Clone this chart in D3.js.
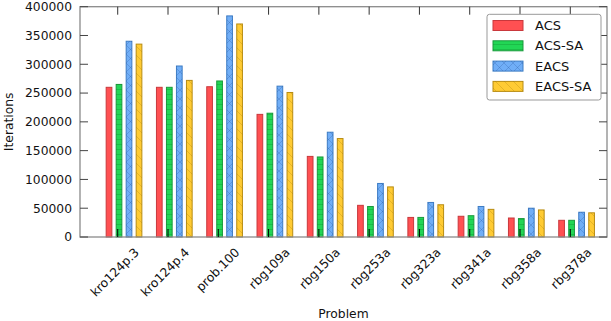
<!DOCTYPE html>
<html><head><meta charset="utf-8">
<script src="https://cdn.jsdelivr.net/npm/d3@7"></script>
<style>body{margin:0;background:#fff}svg{display:block;font-family:"DejaVu Sans",sans-serif}</style>
</head><body><svg id="c" width="611" height="321"></svg>
<script>
const categories = ["kro124p.3","kro124p.4","prob.100","rbg109a","rbg150a","rbg253a","rbg323a","rbg341a","rbg358a","rbg378a"];
const seriesNames = ["ACS","ACS-SA","EACS","EACS-SA"];
const acs    = [260000,260000,261000,213000,140000,55000,34000,36000,33000,29000];
const acsSa  = [265000,260000,271000,215000,139000,53000,34000,37000,32000,29000];
const eacs   = [340000,297000,384000,262000,182000,93000,60000,53000,50000,43000];
const eacsSa = [335000,272000,370000,251000,171000,87000,56000,48000,47000,42000];
const yTicks = [0,50000,100000,150000,200000,250000,300000,350000,400000];

const series = [acs, acsSa, eacs, eacsSa];
const fills   = ["#ff5052","#22d655","#70aef7","#ffcb33"];
const strokes = ["#c9383c","#1a9a3c","#3d7cc4","#b88c12"];
const patterns = [null,"hl","xh","nw"];

const svg = d3.select("#c");
const L = 80, R = 607, T = 6.7, B = 237;
const x = d3.scaleLinear().domain([-0.75, 9.73]).range([L, R]);
const y = d3.scaleLinear().domain([0, 400000]).range([B, T]);

const defs = svg.append("defs");
function pat(id, color, draw, size) {
  const p = defs.append("pattern").attr("id", id).attr("patternUnits","userSpaceOnUse")
    .attr("width", size).attr("height", size);
  draw(p, color, size);
}
pat("hl", "rgba(0,90,20,0.35)", (p,c,s)=>{ p.append("line").attr("x1",0).attr("x2",s).attr("y1",s-0.5).attr("y2",s-0.5).attr("stroke",c).attr("stroke-width",0.6); }, 5);
pat("xh", "rgba(20,60,130,0.35)", (p,c,s)=>{
  p.append("path").attr("d",`M0,0L${s},${s}M${s},0L0,${s}`).attr("stroke",c).attr("stroke-width",0.6).attr("fill","none"); }, 9);
pat("nw", "rgba(130,90,0,0.35)", (p,c,s)=>{
  p.append("path").attr("d",`M0,0L${s},${s}M${-s},0L${s*0},${s}M${s},0L${2*s},${s}`).attr("stroke",c).attr("stroke-width",0.6).attr("fill","none"); }, 9);

// bars
const bw = 6.7;
series.forEach((vals, k) => {
  const g = svg.append("g");
  vals.forEach((v, i) => {
    const cx = x(i) + (k - 1) * 10 + 1.3;
    g.append("rect").attr("x", cx - bw/2 + 0.5).attr("y", y(v)).attr("width", bw - 1).attr("height", B - y(v))
      .attr("fill", fills[k]).attr("stroke", strokes[k]).attr("stroke-width", 1);
    if (patterns[k]) g.append("rect").attr("x", cx - bw/2 + 0.5).attr("y", y(v)).attr("width", bw - 1).attr("height", B - y(v))
      .attr("fill", `url(#${patterns[k]})`);
  });
});

// frame
svg.append("rect").attr("x", L).attr("y", T).attr("width", R - L).attr("height", B - T)
  .attr("fill", "none").attr("stroke", "#8a8a8a").attr("stroke-width", 1.3);

// y ticks
const ya = svg.append("g");
yTicks.forEach(t => {
  ya.append("line").attr("x1", L).attr("x2", L + 8).attr("y1", y(t)).attr("y2", y(t)).attr("stroke", "#444").attr("stroke-width", 1);
  ya.append("line").attr("x1", R - 8).attr("x2", R).attr("y1", y(t)).attr("y2", y(t)).attr("stroke", "#444").attr("stroke-width", 1);
  ya.append("text").attr("x", 72).attr("y", y(t)).attr("dy", "0.36em").attr("text-anchor", "end")
    .attr("font-size", 12.3).attr("fill", "#111").text(t);
});

// x ticks
categories.forEach((c, i) => {
  svg.append("line").attr("x1", x(i)).attr("x2", x(i)).attr("y1", T).attr("y2", T + 8).attr("stroke", "#333").attr("stroke-width", 1);
  svg.append("line").attr("x1", x(i)).attr("x2", x(i)).attr("y1", B).attr("y2", B - 8).attr("stroke", "#000").attr("stroke-width", 1);
  svg.append("text").attr("transform", `translate(${x(i) + 16},${247}) rotate(-45)`)
    .attr("text-anchor", "end").attr("dy", "0.7em").attr("font-size", 12.3).attr("fill", "#111").text(c);
});

// axis labels
svg.append("text").attr("x", (L + R) / 2).attr("y", 318).attr("text-anchor", "middle").attr("font-size", 12.3).attr("fill", "#111").text("Problem");
svg.append("text").attr("transform", `translate(13,${(T + B) / 2}) rotate(-90)`).attr("text-anchor", "middle").attr("font-size", 12.3).attr("fill", "#111").text("Iterations");

// legend
const lg = svg.append("g");
lg.append("rect").attr("x", 487).attr("y", 14.3).attr("width", 114).attr("height", 85.7).attr("rx", 2.5)
  .attr("fill", "#fff").attr("stroke", "#999").attr("stroke-width", 1);
seriesNames.forEach((n, k) => {
  const cy = 25.5 + k * 20.3;
  lg.append("rect").attr("x", 493).attr("y", cy - 5).attr("width", 30).attr("height", 10)
    .attr("fill", fills[k]).attr("stroke", strokes[k]).attr("stroke-width", 1);
  if (patterns[k]) lg.append("rect").attr("x", 493).attr("y", cy - 5).attr("width", 30).attr("height", 10).attr("fill", `url(#${patterns[k]})`);
  lg.append("text").attr("x", 535).attr("y", cy).attr("dy", "0.36em").attr("font-size", 13).attr("fill", "#111").text(n);
});
</script></body></html>
